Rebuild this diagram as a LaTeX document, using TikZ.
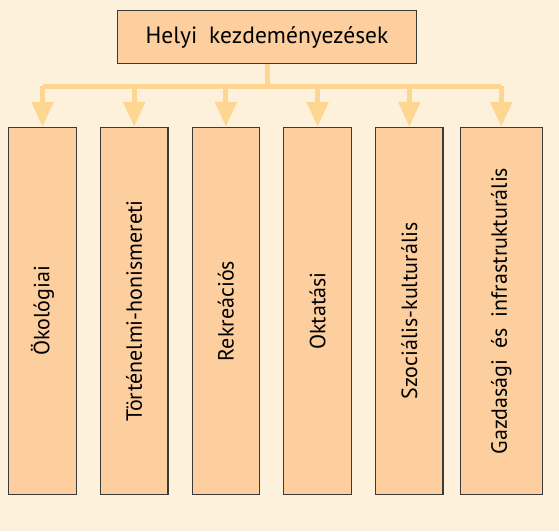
\documentclass[tikz,border=0pt]{standalone}
\usepackage{fontspec}
\setmainfont{PT Sans}
\usetikzlibrary{arrows.meta,positioning}
\definecolor{paper}{HTML}{FEF1DC}
\definecolor{boxfill}{HTML}{FDCF9F}
\definecolor{arrowcol}{HTML}{FDD792}
\definecolor{edge}{HTML}{3A3A3A}

\begin{document}
\begin{tikzpicture}[x=1pt,y=1pt,node distance=23pt,>={Triangle[width=21pt,length=25pt]}]
      \tikzstyle{head}=[rectangle,draw=edge,line width=1.2pt,fill=boxfill,minimum width=299pt,minimum height=53pt,font=\fontsize{23.5}{28}\selectfont]
      \tikzstyle{branch}=[rectangle,draw=edge,line width=1.2pt,fill=boxfill,minimum width=67.5pt,minimum height=367pt,font=\fontsize{22}{26}\selectfont]
      \tikzstyle{feed}=[draw=arrowcol,line width=5pt]
      \fill[paper](0,0) rectangle (559,-531);
      \useasboundingbox (0,0) rectangle (559,-531);
      \node[head](top) at (267,-37){Helyi\hspace{0.5em}kezdeményezések};
      \node[branch](okol) at (42.5,-311){\rotatebox{90}{Ökológiai}};
      \node[branch,right=of okol](tort){\rotatebox{90}{Történelmi-honismereti}};
      \node[branch,right=of tort](rekr){\rotatebox{90}{Rekreációs}};
      \node[branch,right=of rekr](okt){\rotatebox{90}{Oktatási}};
      \node[branch,right=of okt](szoc){\rotatebox{90}{Szociális-kulturális}};
      \node[branch,right=16pt of szoc,minimum width=82pt](gazd){\rotatebox{90}{Gazdasági\hspace{0.5em}és\hspace{0.5em}infrastrukturális}};
      \coordinate[below=22pt of top.south](bus);
      \draw[feed](top.south)--(bus);
      \draw[feed](okol.north |- bus)--(gazd.north |- bus);
      \foreach \b in {okol,tort,rekr,okt,szoc,gazd}
        \draw[feed,->](\b.north |- bus)--(\b.north);
    \end{tikzpicture}
\end{document}
